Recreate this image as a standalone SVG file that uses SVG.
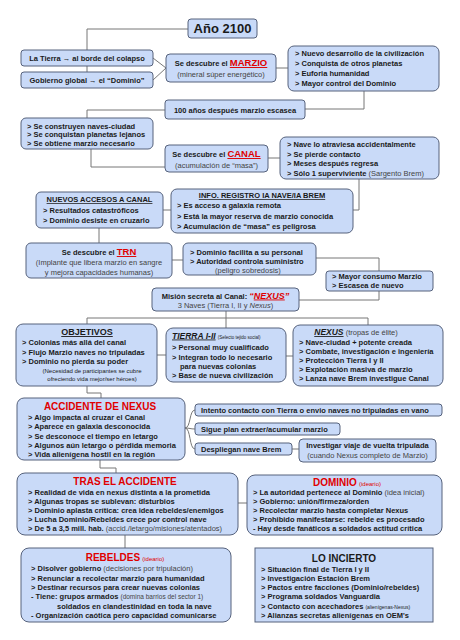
<svg xmlns="http://www.w3.org/2000/svg" width="460" height="640" viewBox="0 0 460 640">
<style>
.bx{fill:#c9daf8;stroke:#56627c;stroke-width:1}
.c{fill:none;stroke:#777;stroke-width:1}
text{font-family:"Liberation Sans",Arial,sans-serif;font-size:7.5px;font-weight:bold;fill:#1a1a1a}
.n{font-weight:normal;fill:#444}
.m{text-anchor:middle}
.r{fill:#e00000}
.u{text-decoration:underline}
.t{font-size:10px}
.s{font-size:6px;font-weight:normal}
</style>
<rect width="460" height="640" fill="#fff"/>
<g id="connectors">
<path class="c" d="M188,29 H87 V50 M87,66 V72"/>
<path class="c" d="M153,58 L166,68 M153,80 L166,68"/>
<path class="c" d="M276,68 H288"/>
<path class="c" d="M364,91 V109 H305"/>
<path class="c" d="M165,110 H87 V118"/>
<path class="c" d="M91,149 V167 H165"/>
<path class="c" d="M268,158 H280"/>
<path class="c" d="M359,179 V210 H353"/>
<path class="c" d="M171,210 H163"/>
<path class="c" d="M99,228 V243"/>
<path class="c" d="M172,260 H183"/>
<path class="c" d="M316,258 H379 V300 H299"/>
<path class="c" d="M87,324 V318 H368 V325 M226,311 V328"/>
<path class="c" d="M157,355 H166 M286,356 H293"/>
<path class="c" d="M87,386 V393 H101 V398"/>
<path class="c" d="M185,428 C191,428 189,410 195,410 M185,428 C190,428 190,429 195,429 M185,428 C191,428 189,449 195,449"/>
<path class="c" d="M292,449 H299"/>
<path class="c" d="M100,460 V468 H116 V473"/>
<path class="c" d="M238,503 H247"/>
<path class="c" d="M125,535 V548"/>
</g>
<g id="n-ano"><rect class="bx" x="188" y="19" width="69" height="19" rx="3"/><text class="m" x="222.5" y="33" style="font-size:13px">Año 2100</text></g>
<g id="n-tierra"><rect class="bx" x="21" y="50" width="132" height="16" rx="3"/><text class="m" x="87" y="61">La Tierra → al borde del colapso</text></g>
<g id="n-gobierno"><rect class="bx" x="21" y="72" width="132" height="16" rx="3"/><text class="m" x="87" y="83">Gobierno global → el “Dominio”</text></g>
<g id="n-marzio"><rect class="bx" x="166" y="54" width="110" height="28" rx="4"/><text class="m" x="221" y="66">Se descubre el <tspan class="r u" style="font-size:9.5px">MARZIO</tspan></text><text class="m n" x="221" y="77">(mineral súper energético)</text></g>
<g id="n-list1"><rect class="bx" x="288" y="46" width="151" height="45" rx="6"/><text x="295" y="56">&gt; Nuevo desarrollo de la civilización</text><text x="295" y="66">&gt; Conquista de otros planetas</text><text x="295" y="76">&gt; Euforia humanidad</text><text x="295" y="86">&gt; Mayor control del Dominio</text></g>
<g id="n-100"><rect class="bx" x="165" y="100" width="140" height="19" rx="3"/><text class="m" x="235" y="113">100 años después marzio escasea</text></g>
<g id="n-list2"><rect class="bx" x="21" y="118" width="132" height="31" rx="5"/><text x="27" y="128.5">&gt; Se construyen naves-ciudad</text><text x="27" y="137">&gt; Se conquistan planetas lejanos</text><text x="27" y="145.5">&gt; Se obtiene marzio necesario</text></g>
<g id="n-canal"><rect class="bx" x="165" y="145" width="103" height="27" rx="4"/><text class="m" x="216.5" y="157">Se descubre el <tspan class="r u" style="font-size:9.5px">CANAL</tspan></text><text class="m n" x="216.5" y="168">(acumulación de “masa”)</text></g>
<g id="n-nave"><rect class="bx" x="280" y="137" width="159" height="42" rx="6"/><text x="287" y="147">&gt; Nave lo atraviesa accidentalmente</text><text x="287" y="156.5">&gt; Se pierde contacto</text><text x="287" y="166">&gt; Meses después regresa</text><text x="287" y="175.5">&gt; Sólo 1 superviviente <tspan class="n">(Sargento Brem)</tspan></text></g>
<g id="n-nuevos"><rect class="bx" x="36" y="192" width="127" height="36" rx="5"/><text class="m u" x="99.5" y="202">NUEVOS ACCESOS A CANAL</text><text x="43" y="213">&gt; Resultados catastróficos</text><text x="43" y="223">&gt; Dominio desiste en cruzarlo</text></g>
<g id="n-info"><rect class="bx" x="171" y="189" width="182" height="44" rx="6"/><text class="m u" x="262" y="198">INFO. REGISTRO IA NAVE/IA BREM</text><text x="177" y="208">&gt; Es acceso a galaxia remota</text><text x="177" y="218.5">&gt; Está la mayor reserva de marzio conocida</text><text x="177" y="228.5">&gt; Acumulación de “masa” es peligrosa</text></g>
<g id="n-trn"><rect class="bx" x="26" y="243" width="146" height="35" rx="5"/><text class="m" x="99" y="255">Se descubre el <tspan class="r u" style="font-size:9.5px">TRN</tspan></text><text class="m n" x="99" y="265">(Implante que libera marzio en sangre</text><text class="m n" x="99" y="274.5">y mejora capacidades humanas)</text></g>
<g id="n-dominio1"><rect class="bx" x="183" y="243" width="133" height="32" rx="5"/><text x="190" y="254.5">&gt; Dominio facilita a su personal</text><text x="190" y="263.5">&gt; Autoridad controla suministro</text><text class="n" x="215" y="272.5">(peligro sobredosis)</text></g>
<g id="n-mayor"><rect class="bx" x="326" y="271" width="107" height="20" rx="3"/><text x="332" y="279">&gt; Mayor consumo Marzio</text><text x="332" y="288">&gt; Escasea de nuevo</text></g>
<g id="n-mision"><rect class="bx" x="152" y="288" width="147" height="23" rx="4"/><text class="m" x="225.5" y="298.5">Misión secreta al Canal: <tspan class="r" style="font-size:9px;font-style:italic">“<tspan class="u">NEXUS</tspan>”</tspan></text><text class="m n" x="225.5" y="308">3 Naves (Tierra I, II y <tspan font-style="italic">Nexus</tspan>)</text></g>
<g id="n-objetivos"><rect class="bx" x="16" y="324" width="141" height="62" rx="7"/><text class="m u" x="87" y="335" style="font-size:9px">OBJETIVOS</text><text x="22" y="345">&gt; Colonias más allá del canal</text><text x="22" y="355">&gt; Flujo Marzio naves no tripuladas</text><text x="22" y="364">&gt; Dominio no pierda su poder</text><text class="m s" x="92" y="373">(Necesidad de participantes se cubre</text><text class="m s" x="92" y="381">ofreciendo vida mejor/ser héroes)</text></g>
<g id="n-tierra12"><rect class="bx" x="166" y="328" width="120" height="54" rx="7"/><text x="172" y="338.5"><tspan class="u" style="font-size:8.5px;font-style:italic">TIERRA I-II</tspan> <tspan class="s" style="font-size:4.5px">(Selecto tejido social)</tspan></text><text x="172" y="350">&gt; Personal muy cualificado</text><text x="172" y="360">&gt; Integran todo lo necesario</text><text x="180" y="369">para nuevas colonias</text><text x="172" y="378">&gt; Base de nueva civilización</text></g>
<g id="n-nexus"><rect class="bx" x="293" y="325" width="150" height="61" rx="7"/><text class="m" x="356" y="335"><tspan class="u" style="font-size:8.5px;font-style:italic">NEXUS</tspan> <tspan class="n">(tropas de élite)</tspan></text><text x="299" y="345">&gt; Nave-ciudad + potente creada</text><text x="299" y="353.5">&gt; Combate, investigación e ingeniería</text><text x="299" y="362.5">&gt; Protección Tierra I y II</text><text x="299" y="371.5">&gt; Explotación masiva de marzio</text><text x="299" y="380.5">&gt; Lanza nave Brem investigue Canal</text></g>
<g id="n-accidente"><rect class="bx" x="17" y="398" width="168" height="62" rx="7"/><text class="m r t" x="100" y="410">ACCIDENTE DE NEXUS</text><text x="28" y="420">&gt; Algo impacta al cruzar el Canal</text><text x="28" y="429">&gt; Aparece en galaxia desconocida</text><text x="28" y="438.5">&gt; Se desconoce el tiempo en letargo</text><text x="28" y="448">&gt; Algunos aún letargo o pérdida memoria</text><text x="28" y="457">&gt; Vida alienígena hostil en la región</text></g>
<g id="n-intento"><rect class="bx" x="195" y="404" width="247" height="12" rx="3"/><text x="201" y="412.5">Intento contacto con Tierra o envio naves no tripuladas en vano</text></g>
<g id="n-sigue"><rect class="bx" x="195" y="423" width="145" height="12" rx="3"/><text x="201" y="431.5">Sigue plan extraer/acumular marzio</text></g>
<g id="n-despliegan"><rect class="bx" x="195" y="443" width="97" height="12" rx="3"/><text x="201" y="451.5">Despliegan nave Brem</text></g>
<g id="n-investigar"><rect class="bx" x="299" y="439" width="137" height="23" rx="4"/><text class="m" x="367.5" y="448">Investigar viaje de vuelta tripulada</text><text class="m n" x="367.5" y="457.5">(cuando Nexus completo de Marzio)</text></g>
<g id="n-tras"><rect class="bx" x="17" y="473" width="221" height="62" rx="8"/><text class="m r t" x="125" y="485">TRAS EL ACCIDENTE</text><text x="28" y="495">&gt; Realidad de vida en nexus distinta a la prometida</text><text x="28" y="504">&gt; Algunas tropas se sublevan: disturbios</text><text x="28" y="513">&gt; Dominio aplasta crítica: crea idea rebeldes/enemigos</text><text x="28" y="522">&gt; Lucha Dominio/Rebeldes crece por control nave</text><text x="28" y="531">&gt; De 5 a 3,5 mill. hab. <tspan class="n">(accid./letargo/misiones/atentados)</tspan></text></g>
<g id="n-dominio"><rect class="bx" x="247" y="475" width="195" height="60" rx="8"/><text class="m r" x="347" y="486"><tspan class="t">DOMINIO</tspan> <tspan class="s r">(ideario)</tspan></text><text x="253" y="495">&gt; La autoridad pertenece al Dominio <tspan class="n">(idea inicial)</tspan></text><text x="253" y="504">&gt; Gobierno: unión/firmeza/orden</text><text x="253" y="513">&gt; Recolectar marzio hasta completar Nexus</text><text x="253" y="522">&gt; Prohibido manifestarse: rebelde es procesado</text><text x="253" y="531">- Hay desde fanáticos a soldados actitud crítica</text></g>
<g id="n-rebeldes"><rect class="bx" x="21" y="548" width="210" height="74" rx="8"/><text class="m r" x="125" y="561"><tspan class="t">REBELDES</tspan> <tspan class="s r">(ideario)</tspan></text><text x="31" y="571">&gt; Disolver gobierno <tspan class="n">(decisiones por tripulación)</tspan></text><text x="31" y="580.5">&gt; Renunciar a recolectar marzio para humanidad</text><text x="31" y="590">&gt; Destinar recursos para crear nuevas colonias</text><text x="31" y="599">-  Tiene: grupos armados <tspan class="n" style="font-size:6.5px">(domina barrios del sector 1)</tspan></text><text x="57" y="608.5">soldados en clandestinidad en toda la nave</text><text x="31" y="618">- Organización caótica pero capacidad comunicarse</text></g>
<g id="n-incierto"><rect class="bx" x="255" y="548" width="178" height="74"/><text class="m t" x="344" y="562">LO INCIERTO</text><text x="261" y="572">&gt; Situación final de Tierra I y II</text><text x="261" y="581">&gt; Investigación Estación Brem</text><text x="261" y="590">&gt; Pactos entre facciones (Dominio/rebeldes)</text><text x="261" y="599">&gt; Programa soldados Vanguardia</text><text x="261" y="608.5">&gt; Contacto con acechadores <tspan class="s" style="font-size:5px">(alienígenas-Nexus)</tspan></text><text x="261" y="618">&gt; Alianzas secretas alienígenas en OEM's</text></g>
</svg>
